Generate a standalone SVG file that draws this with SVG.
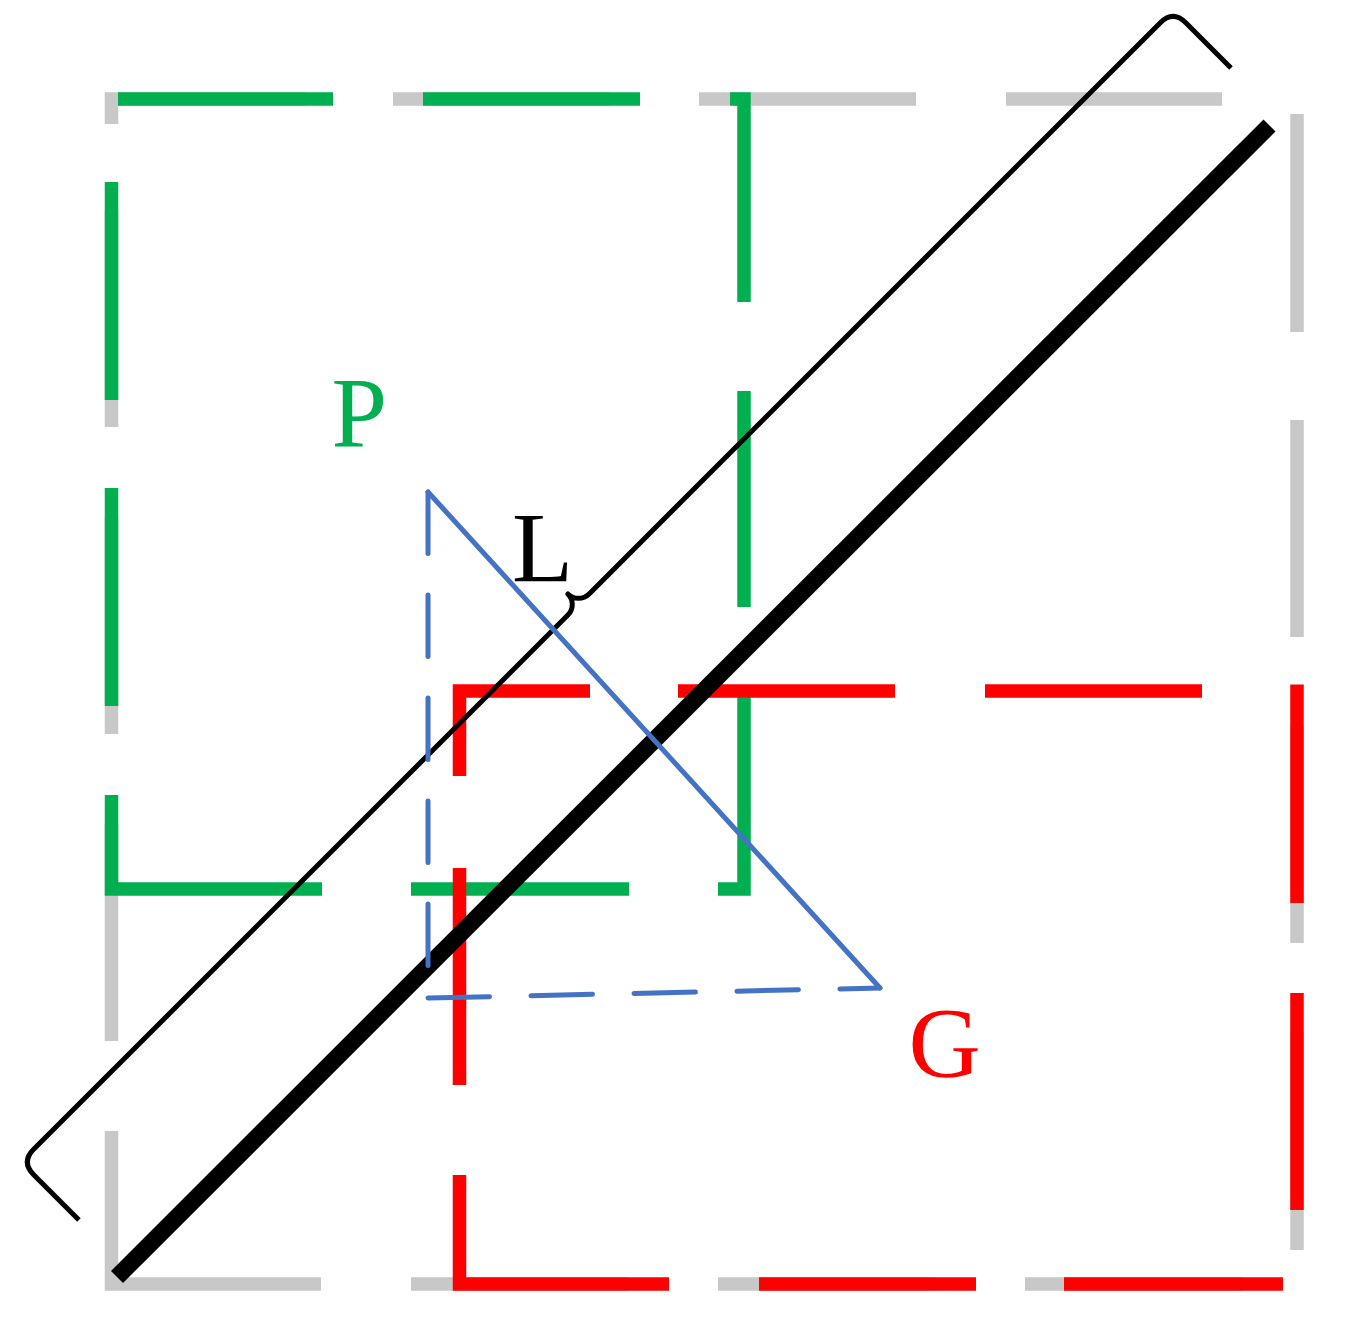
<svg xmlns="http://www.w3.org/2000/svg" width="1350" height="1328" viewBox="0 0 1350 1328">
  <style>
    .sq { fill: none; stroke-width: 13.5; stroke-linecap: butt; stroke-linejoin: miter; }
    .grey { stroke: #c8c8c8; }
    .green { stroke: #00b050; }
    .red { stroke: #ff0000; }
    .blue { fill: none; stroke: #4472c4; stroke-width: 5; stroke-linecap: round; stroke-linejoin: round; }
    .dash { stroke-dasharray: 61.5 41.5; }
    .lbl { font-family: "Liberation Serif", "Times New Roman", serif; font-size: 100px; }
  </style>
  <rect width="1350" height="1328" fill="#ffffff"/>

  <g id="grey-square" class="sq grey">
    <path d="M111.5,124 V99 H306"/>
    <path d="M393,99 H610 M699,99 H916 M1006,99 H1222"/>
    <path d="M1297,114 V332 M1297,420 V637 M1297,726 V943 M1297,1032 V1250"/>
    <path d="M1242,1284 H1025 M935,1284 H718 M628,1284 H411"/>
    <path d="M321,1284 H111.5 V1131"/>
    <path d="M111.5,1041 V824 M111.5,734 V517 M111.5,427 V210"/>
  </g>

  <g id="green-square" class="sq green">
    <path d="M118,99 H333 M423,99 H640"/>
    <path d="M730,99 H744 V302"/>
    <path d="M744,391 V607"/>
    <path d="M744,697 V889 H718"/>
    <path d="M629,889 H411"/>
    <path d="M322,889 H111.5 V795"/>
    <path d="M111.5,706 V488 M111.5,400 V182"/>
  </g>

  <g id="red-square" class="sq red">
    <path d="M459.5,776 V691 H590"/>
    <path d="M678,691 H895 M985,691 H1202"/>
    <path d="M1297,684.5 V903 M1297,993 V1210"/>
    <path d="M1283,1284 H1064 M976,1284 H759"/>
    <path d="M669,1284 H459.5 V1175"/>
    <path d="M459.5,1085 V868"/>
  </g>

  <g id="connectors">
    <line id="diagonal" x1="117" y1="1277" x2="1269.5" y2="125.5" stroke="#000000" stroke-width="17" stroke-linecap="butt"/>
    <g id="brace-L" transform="translate(578.5,604.5) rotate(-45)">
      <path d="M-788.5,82 V18 Q-788.5,0 -770.5,0 H-15 A15,15 0 0 0 0,-15 A15,15 0 0 0 15,0 H822.8 Q840.8,0 840.8,18 V82" fill="none" stroke="#000000" stroke-width="5" stroke-linejoin="round"/>
    </g>
    <g id="triangle">
      <path class="blue dash" d="M428,492 V998"/>
      <path class="blue dash" d="M428,998 L880,988"/>
      <path class="blue" d="M428,492 L880,988"/>
    </g>
  </g>

  <g id="label-P"><text class="lbl" x="331.5" y="446" fill="#00b050">P</text></g>
  <g id="label-L"><text class="lbl" x="512" y="581" fill="#000000">L</text></g>
  <g id="label-G"><text class="lbl" x="908.5" y="1076" fill="#ff0000">G</text></g>
</svg>
